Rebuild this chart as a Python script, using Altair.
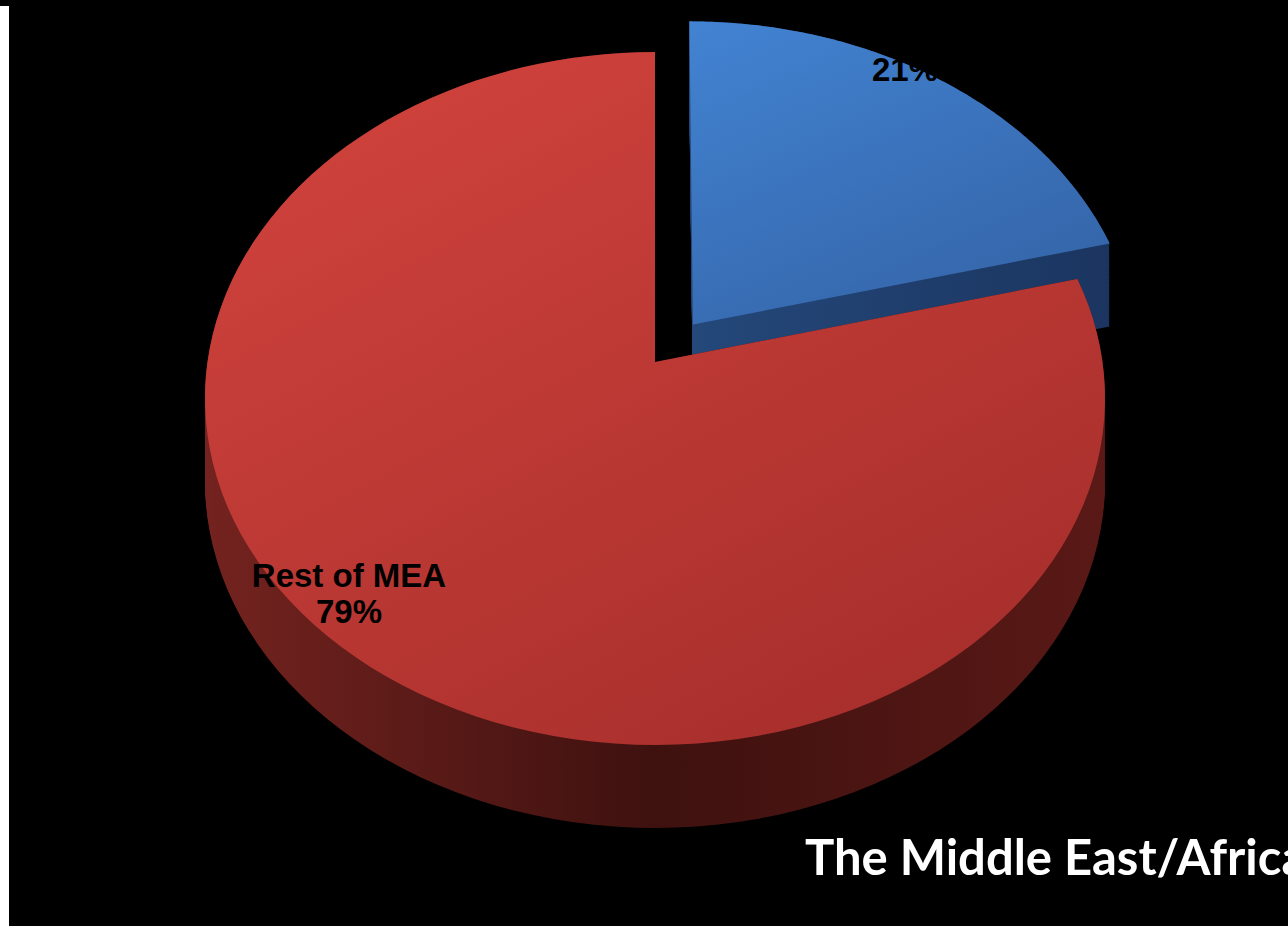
import altair as alt
import pandas as pd

# ---- data ----
slice_ids = [0, 1]
slice_names = ["", "Rest of MEA"]
slice_shares = [21, 79]
title_text = "The Middle East/Africa"

df = pd.DataFrame({"idx": slice_ids, "name": slice_names, "share": slice_shares})

# ---- layout / style constants ----
W, H = 1288, 926
CXP, CYP = 655, 362          # pixel position of the pie apex
SX, SY = 447.5, 342.6        # pixels per unit radius
P = 0.1054                   # perspective strength
DEPTH = 83 / SY              # side thickness in y units
EXPLODE = 0.14
N = 120                      # arc resolution
M = 42                       # side sweep steps

xs = alt.Scale(domain=[-CXP / SX, (W - CXP) / SX], nice=False, zero=False)
ys = alt.Scale(domain=[(CYP - H) / SY, CYP / SY], nice=False, zero=False)

base = (
    alt.Chart(df)
    .transform_joinaggregate(total="sum(share)")
    .transform_window(cum="sum(share)", sort=[alt.SortField("idx")], frame=[None, 0])
    .transform_calculate(
        a0="2*PI*(datum.cum - datum.share)/datum.total",
        a1="2*PI*datum.cum/datum.total",
        ex=f"datum.idx == 0 ? {EXPLODE} : 0",
    )
    .transform_calculate(
        ou="datum.ex*sin((datum.a0+datum.a1)/2)",
        ov="datum.ex*cos((datum.a0+datum.a1)/2)",
        ks=f"sequence(0, {N + 2})",
    )
    .transform_flatten(["ks"], as_=["k"])
    .transform_calculate(
        ang=f"datum.a0 + (datum.a1-datum.a0)*min(datum.k,{N})/{N}",
    )
    .transform_calculate(
        u=f"datum.ou + (datum.k <= {N} ? sin(datum.ang) : 0)",
        v=f"datum.ov + (datum.k <= {N} ? cos(datum.ang) : 0)",
    )
    .transform_calculate(
        X=f"datum.u/(1+{P}*datum.v)",
        Y=f"datum.v/(1+{P}*datum.v)",
    )
)


def grad(c0, c1, x2=0.5, y2=1.0, cm=None):
    stops = [alt.GradientStop(color=c0, offset=0)]
    if cm is not None:
        stops.append(alt.GradientStop(color=cm, offset=0.5))
    stops.append(alt.GradientStop(color=c1, offset=1))
    return alt.LinearGradient(gradient="linear", stops=stops, x1=0, y1=0, x2=x2, y2=y2)


def side(idx, fill):
    return (
        base.transform_filter(f"datum.idx == {idx}")
        .transform_calculate(js=f"sequence(0, {M + 1})")
        .transform_flatten(["js"], as_=["j"])
        .transform_calculate(Ys=f"datum.Y - {DEPTH}*datum.j/{M}")
        .mark_line(fill=fill, strokeOpacity=0)
        .encode(
            x=alt.X("X:Q", scale=xs, axis=None),
            y=alt.Y("Ys:Q", scale=ys, axis=None),
            order=alt.Order("k:Q"),
            detail="j:O",
        )
    )


def top(idx, fill):
    return (
        base.transform_filter(f"datum.idx == {idx}")
        .mark_line(fill=fill, strokeOpacity=0)
        .encode(
            x=alt.X("X:Q", scale=xs, axis=None),
            y=alt.Y("Y:Q", scale=ys, axis=None),
            order=alt.Order("k:Q"),
        )
    )


blue_side = side(0, grad("#24487a", "#1b3560", x2=1, y2=0))
red_side = side(1, grad("#74231f", "#5a1916", x2=1, y2=0, cm="#3e110f"))
blue_top = top(0, grad("#4283d2", "#3566aa", x2=0.6, y2=1))
red_top = top(1, grad("#d4443e", "#a82f2c", x2=0.7, y2=1))

labels = (
    alt.Chart(df)
    .transform_joinaggregate(total="sum(share)")
    .transform_calculate(
        pct="format(datum.share/datum.total, '.0%')",
    )
    .transform_calculate(
        label="datum.name ? datum.name + '\\n' + datum.pct : datum.pct",
    )
)

red_label = (
    labels.transform_filter("datum.idx == 1")
    .mark_text(font="Liberation Sans", fontWeight="bold", fontSize=33, color="black",
               lineBreak="\n", lineHeight=36, align="center", baseline="middle")
    .encode(x=alt.value(349), y=alt.value(577), text="label:N")
)
blue_label = (
    labels.transform_filter("datum.idx == 0")
    .mark_text(font="Liberation Sans", fontWeight="bold", fontSize=33, color="black",
               align="center", baseline="middle")
    .encode(x=alt.value(905), y=alt.value(71), text="label:N")
)

title = (
    alt.Chart(pd.DataFrame({"t": [title_text]}))
    .mark_text(font="Lato", fontWeight="bold", fontSize=49, color="white",
               align="left", baseline="alphabetic")
    .encode(x=alt.value(805), y=alt.value(875), text="t:N")
)

strip = (
    alt.Chart(pd.DataFrame({"a": [0]}))
    .mark_rect(color="white")
    .encode(x=alt.value(0), x2=alt.value(9), y=alt.value(6), y2=alt.value(H))
)

chart = (
    alt.layer(blue_side, red_side, blue_top, red_top, strip, red_label, blue_label, title)
    .properties(width=W, height=H, padding=0, autosize=alt.AutoSizeParams(type="none"),
                background="black")
    .configure_view(strokeWidth=0)
)

chart.save("out.html", embed_options={"renderer": "svg", "actions": False})
